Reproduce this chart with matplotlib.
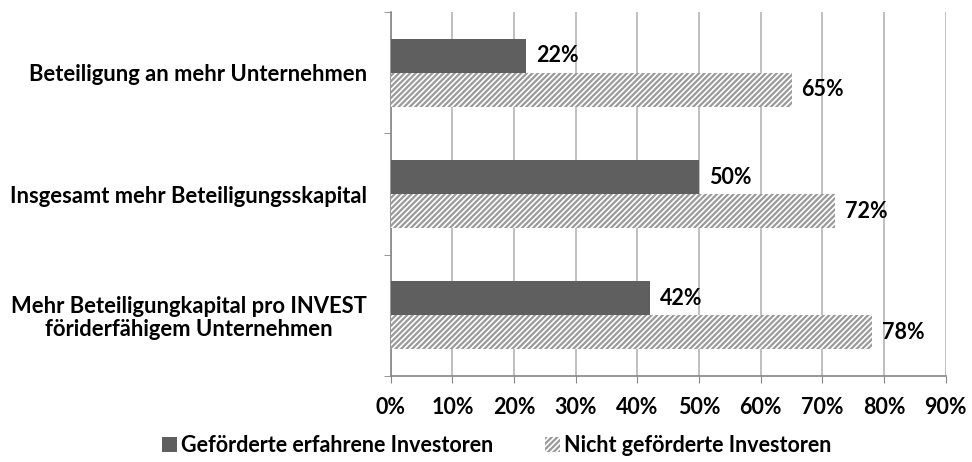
import numpy as np
import matplotlib.pyplot as plt
from matplotlib.patches import Patch

plt.rcParams['font.family'] = ['Lato', 'DejaVu Sans']
plt.rcParams['font.weight'] = 'bold'
plt.rcParams['hatch.color'] = '#9a9a9a'
plt.rcParams['hatch.linewidth'] = 1.6

categories = ['Beteiligung an mehr Unternehmen',
              'Insgesamt mehr Beteiligungsskapital',
              'Mehr Beteiligungkapital pro INVEST\nföriderfähigem Unternehmen']
gefoerdert = [22, 50, 42]
nicht_gefoerdert = [65, 72, 78]
series_names = ['Geförderte erfahrene Investoren', 'Nicht geförderte Investoren']
xticks = np.arange(0, 100, 10)

fig = plt.figure(figsize=(9.72, 4.62), dpi=100)
ax = fig.add_axes([0.402, 0.186, 0.571, 0.788])

y = np.arange(len(categories))
h = 0.28
b1 = ax.barh(y - h / 2, gefoerdert, height=h, color='#5f5f5f', zorder=3)
b2 = ax.barh(y + h / 2, nicht_gefoerdert, height=h, color='white',
             hatch='//////', edgecolor='#9a9a9a', linewidth=0, zorder=3)

# value labels right of each bar
for bars, vals in ((b1, gefoerdert), (b2, nicht_gefoerdert)):
    for bar, v in zip(bars, vals):
        ax.text(v + 1.6, bar.get_y() + bar.get_height() / 2, f'{v}%',
                va='center', ha='left', fontsize=15.5, fontweight='bold')

ax.set_xlim(0, 90)
ax.set_ylim(2.5, -0.5)
ax.set_xticks(xticks)
ax.set_xticklabels([f'{t}%' for t in xticks], fontsize=15.5, fontweight='bold')
ax.set_yticks(y)
ax.set_yticklabels(categories, fontsize=15.8, fontweight='bold', ha='right',
                   multialignment='center', linespacing=1.1)
ax.tick_params(axis='y', which='major', length=0, pad=17)
ax.set_yticks([-0.5, 0.5, 1.5, 2.5], minor=True)
ax.tick_params(axis='y', which='minor', length=5, color='#868686')
ax.tick_params(axis='x', length=5, color='#868686', pad=10)

ax.grid(axis='x', color='#b4b4b4', linewidth=1.2, zorder=0)
for s in ('top', 'right'):
    ax.spines[s].set_visible(False)
for s in ('left', 'bottom'):
    ax.spines[s].set_color('#868686')
    ax.spines[s].set_linewidth(1.2)

handles = [Patch(facecolor='#5f5f5f', label=series_names[0]),
           Patch(facecolor='white', hatch='//////', edgecolor='#9a9a9a',
                 linewidth=0, label=series_names[1])]
fig.legend(handles=handles, loc='center', bbox_to_anchor=(0.511, 0.036), ncol=2,
           frameon=False, handlelength=0.72, handleheight=0.72,
           handletextpad=0.18, columnspacing=2.4, borderpad=0,
           prop={'weight': 'bold', 'size': 15.5})

fig.savefig('out.png', dpi=100)
